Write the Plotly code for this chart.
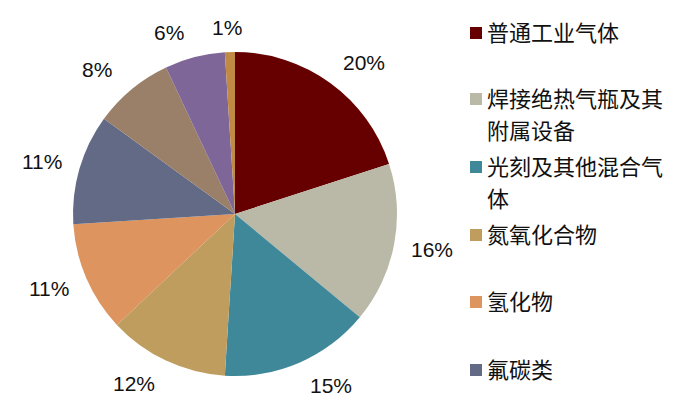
import numpy as np
import plotly.graph_objects as go

# share of each product segment (%), clockwise from 12 o'clock
categories = ['普通工业气体', '焊接绝热气瓶及其\n附属设备', '光刻及其他混合气\n体', '氮氧化合物',
              '氢化物', '氟碳类', '其他A', '其他B', '其他C']
shares = [20, 16, 15, 12, 11, 11, 8, 6, 1]
colors = ['#660000', '#BAB8A6', '#3E889A', '#BE9D5E', '#DD945E',
          '#636A85', '#9A8068', '#7E6699', '#C08A45']
legend_count = 6  # only the first six are named in the legend

W, H = 700, 420
cx, cy, r = 235, 214, 162  # pie centre / radius in pixels

fig = go.Figure()

fig.add_trace(go.Pie(
    labels=[c.replace('\n', '') for c in categories],
    values=shares,
    sort=False,
    direction='clockwise',
    rotation=0,
    marker=dict(colors=colors, line=dict(width=0)),
    textinfo='none',
    showlegend=False,
    hoverinfo='label+percent',
    domain=dict(x=[(cx - r) / W, (cx + r) / W], y=[1 - (cy + r) / H, 1 - (cy - r) / H]),
))

# percentage labels outside the pie, pushed sideways so the text clears the rim
vals = np.array(shares, dtype=float)
mid = (np.cumsum(vals) - vals / 2) / vals.sum() * 2 * np.pi
for v, a in zip(shares, mid):
    s, c = np.sin(a), np.cos(a)
    push = 28 * np.sign(s) * min(1.0, abs(s) / 0.3)
    lx = cx + (r + 10) * s + push
    ly = cy - (r + 25) * c
    fig.add_annotation(xref='paper', yref='paper', x=lx / W, y=1 - ly / H,
                       xanchor='center', yanchor='middle', text=f'{v}%', showarrow=False,
                       font=dict(family='Liberation Sans, Arial', size=21, color='#111111'))

# hand-made legend on the right (one text per wrapped line)
row_y = [33, 99, 167, 235, 302, 370]
line_gap = 32
for i in range(legend_count):
    y = row_y[i]
    fig.add_shape(type='rect', xref='paper', yref='paper',
                  x0=470 / W, x1=482 / W,
                  y0=1 - (y + 6) / H, y1=1 - (y - 6) / H,
                  fillcolor=colors[i], line=dict(width=0))
    for k, part in enumerate(categories[i].split('\n')):
        fig.add_annotation(xref='paper', yref='paper', x=486 / W, y=1 - (y - 2 + k * line_gap) / H,
                           xanchor='left', yanchor='middle', align='left', borderpad=0,
                           text=part, showarrow=False,
                           font=dict(family='Noto Sans CJK SC', size=22, color='#111111'))

fig.update_layout(
    width=W, height=H,
    margin=dict(l=0, r=0, t=0, b=0),
    paper_bgcolor='white',
    plot_bgcolor='white',
)

# drop the page's default body margin so the figure sits at the top-left corner
fig.write_html('out.html', config={'displayModeBar': False},
               post_script="document.body.style.margin='0';")
